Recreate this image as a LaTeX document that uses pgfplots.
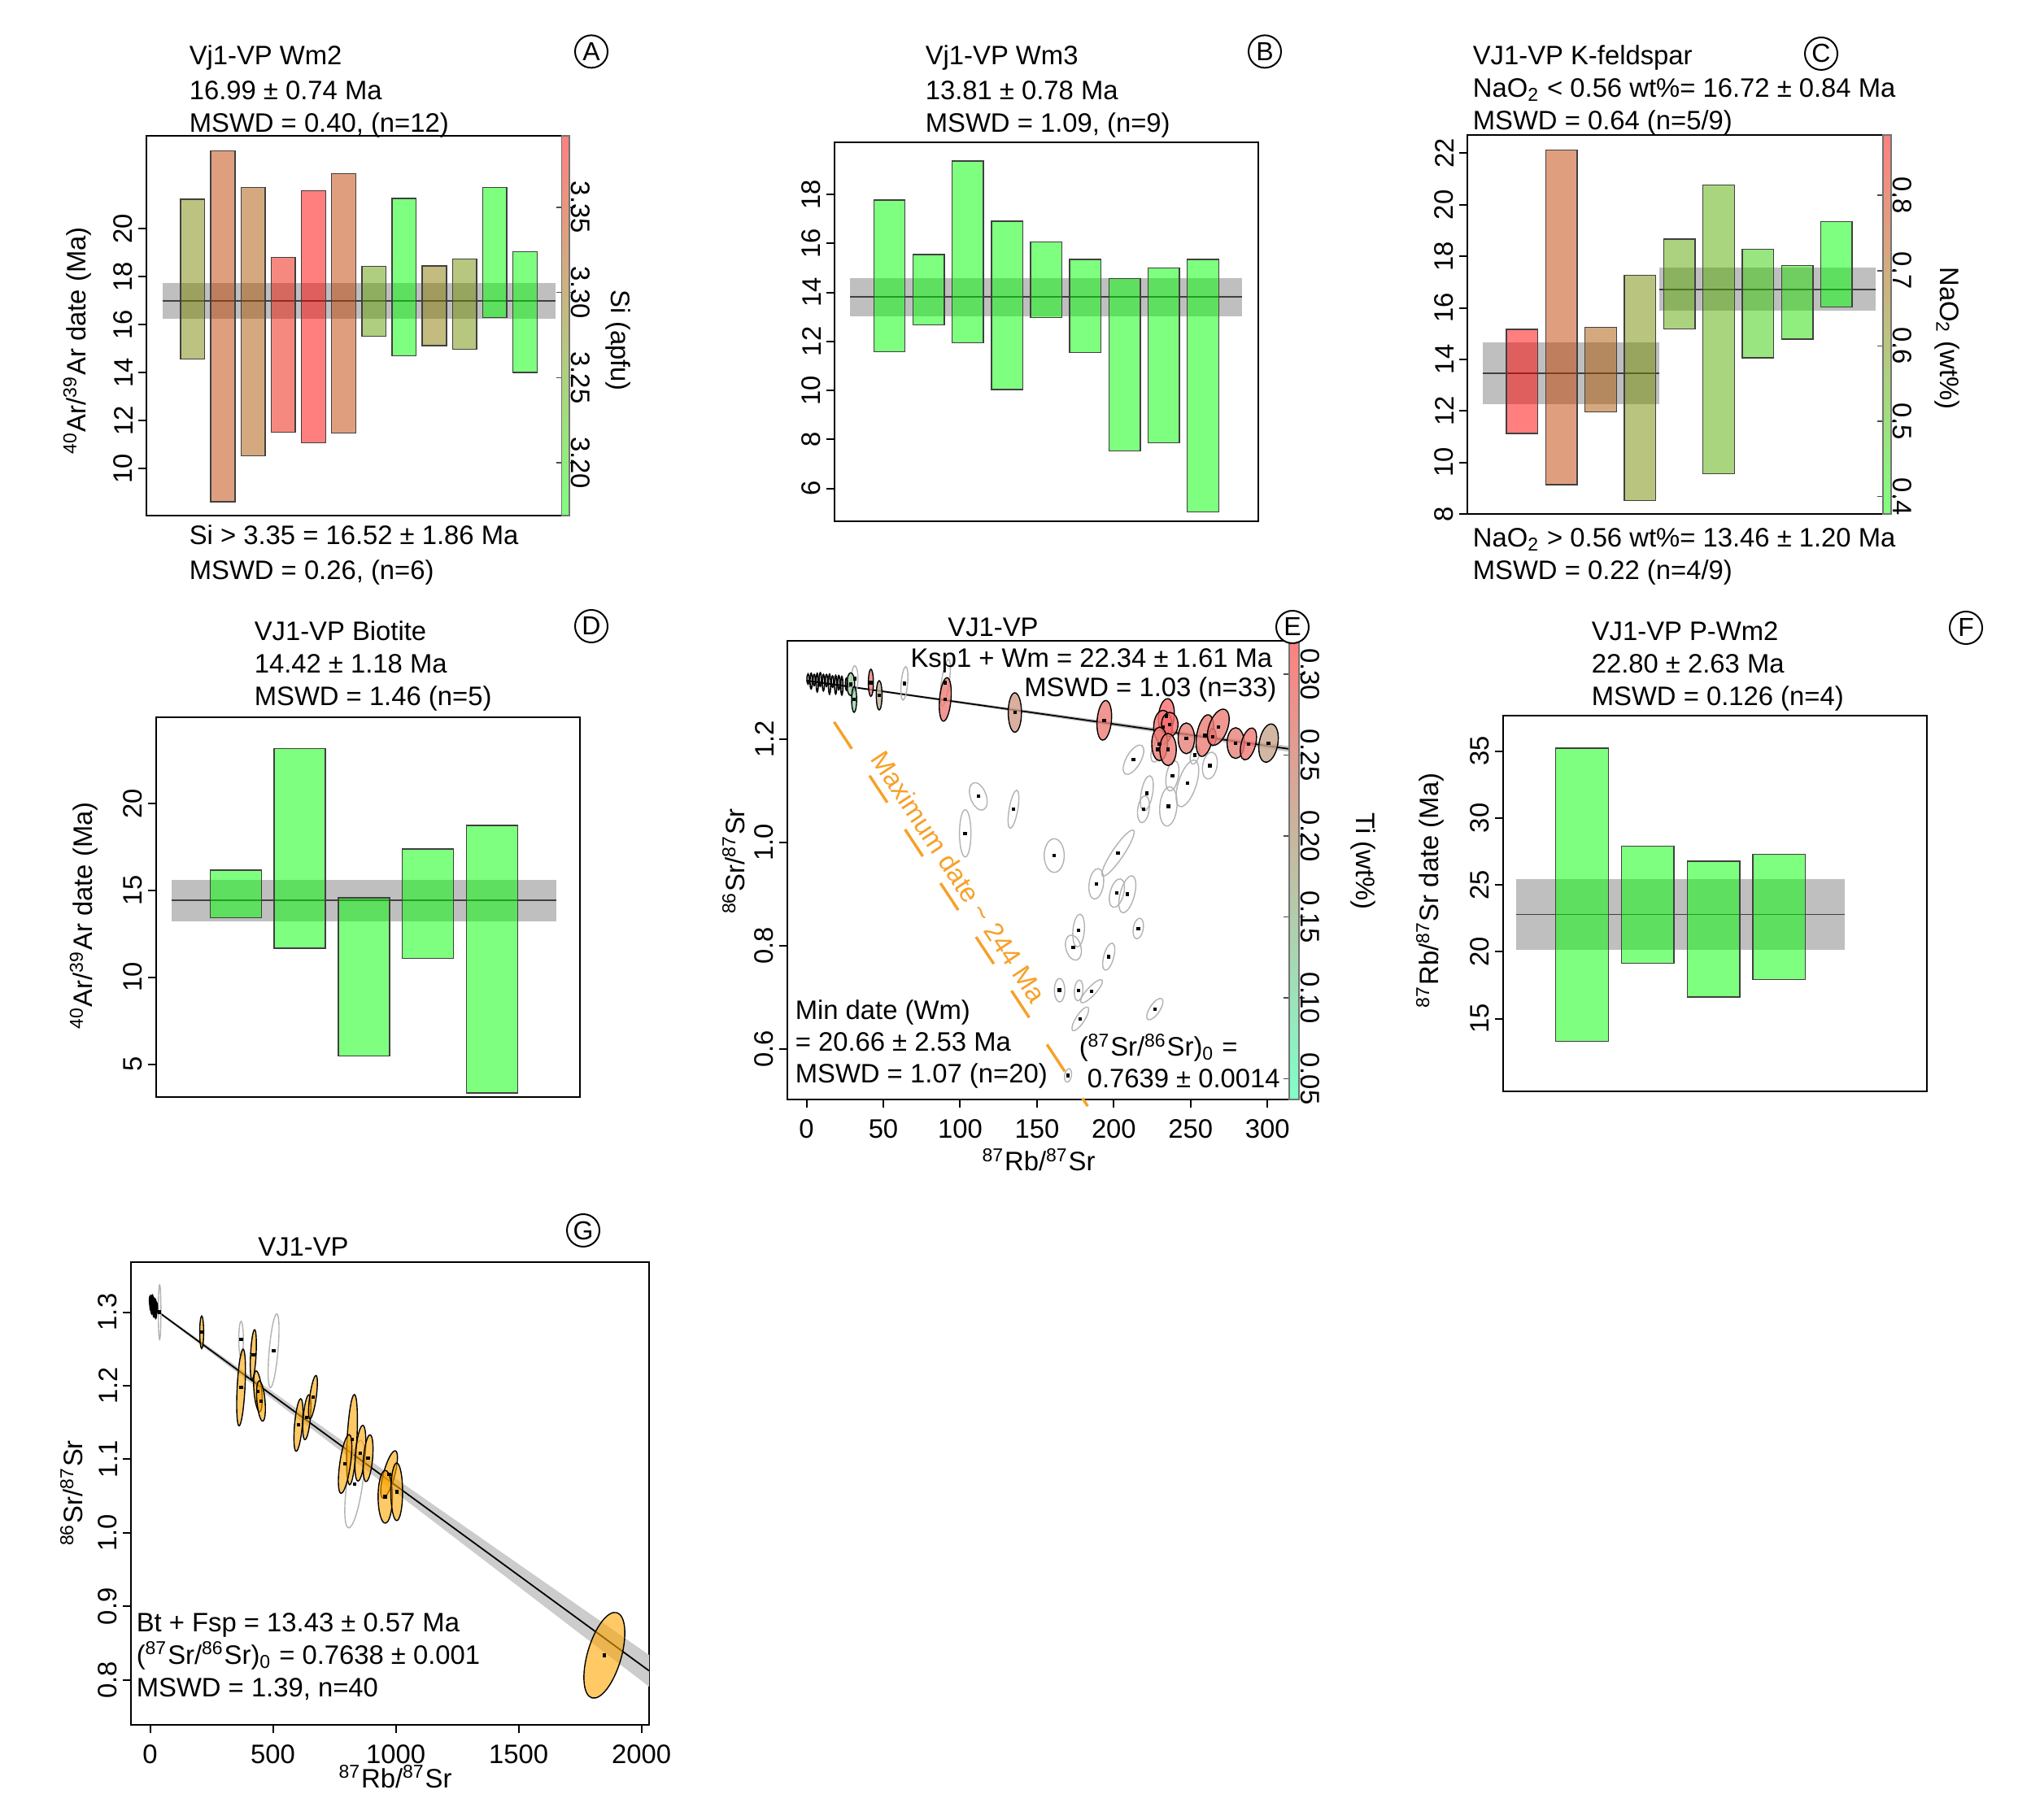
\documentclass[border=0pt]{standalone}
\usepackage{fontspec}
\setmainfont{Liberation Sans}
\usepackage{pgfplots}
\pgfplotsset{compat=1.18}
\usepackage{pgfplotstable}
\usetikzlibrary{shapes.geometric}
\pgfkeys{/pgf/number format/assume math mode=true, /pgf/number format/1000 sep={}}
\newcommand\tf{\fontsize{8.2}{9.5}\selectfont}
\definecolor{mygray}{gray}{0.75}
\definecolor{morange}{RGB}{255,165,0}
\definecolor{dorange}{RGB}{247,160,40}
\definecolor{eH}{RGB}{250,110,110}
\definecolor{eL}{RGB}{120,250,190}
\def\ellk{2}
\pgfplotsset{
  rbase/.style={scale only axis, anchor=south west,
    axis line style={line width=0.6pt},
    tick align=outside, major tick length=2.5pt,
    tick style={black, line width=0.5pt},
    ytick pos=left, xtick pos=bottom,
    yticklabel style={rotate=90, anchor=south, font=\tf, inner sep=1.5pt},
    xticklabel style={font=\tf}},
  barax/.style={rbase, xtick=\empty},
  cbar/.style n args={3}{colorbar, colorbar shift/.style={xshift=0pt},
    colorbar style={at={(parent axis.north east)}, anchor=north east, xshift=0pt, width=#1,
    ytick={#2}, tick align=outside, major tick length=1.8pt, tick style={black!70, line width=0.4pt},
    axis line style={draw=black!55, line width=0.3pt},
    yticklabel shift={-1.5pt},
    yticklabel style={rotate=-90, anchor=south, font=\tf, inner sep=0pt,
      /pgf/number format/.cd, fixed, fixed zerofill, precision=#3}}},
  ell/.style={draw=none, mark=none, nodes near coords={},
    visualization depends on={\thisrow{a} \as \ea},
    visualization depends on={\thisrow{b} \as \eb},
    visualization depends on={\thisrow{r} \as \er},
    every node near coord/.append style={shape=ellipse, anchor=center, inner sep=0pt, outer sep=0pt,
      minimum width={\ellk*\ea pt}, minimum height={\ellk*\eb pt}, rotate=\er, #1}},
}
\newcommand\wb[5]{\addplot[draw=black!75, line width=0.35pt, fill=#5, fill opacity=0.5] coordinates {(#1,#3) (#2,#3) (#2,#4) (#1,#4)} -- cycle;}
\newcommand\band[5]{\addplot[fill=mygray, draw=none] coordinates {(#1,#3) (#2,#3) (#2,#4) (#1,#4)} -- cycle;
  \addplot[black!75, line width=0.4pt] coordinates {(#1,#5) (#2,#5)};}

\pgfplotstableread{
x y a b r
111.8 1.0888 2.2 4.0 20
134.7 1.0639 1.2 5.4 -10
103.3 1.0172 1.6 6.6 0
161.2 0.9742 2.8 4.7 0
202.7 0.979 7.7 1.6 56
188.6 0.9195 2.0 4.3 -8
202.0 0.9015 1.9 4.1 -15
208.8 0.8993 2.0 5.3 -15
177.1 0.829 1.6 4.6 -5
173.7 0.796 2.1 3.6 15
215.9 0.833 1.4 2.9 -10
196.7 0.7785 1.4 3.9 -15
164.7 0.7136 1.45 3.3 0
177.1 0.7131 1.2 2.9 -5
185.5 0.7116 4.3 1.2 47
178.2 0.658 3.9 1.2 57
226.7 0.677 3.5 1.4 56
170.2 0.5486 0.95 1.9 -10
212.8 1.1598 4.6 2.0 60
228.7 1.1796 1.6 3.7 -20
252.7 1.1689 1.2 2.6 -15
262.5 1.1484 2.0 3.8 -10
238.1 1.1286 1.7 4.3 -10
247.9 1.114 2.5 6.8 -18
221.5 1.0947 1.6 5.0 -10
219.3 1.064 1.6 3.8 -8
235.5 1.0694 2.4 5.5 -5
63.7 1.3076 0.9 4.7 -5
90.3 1.3087 1.1 6.6 -8
31.4 1.3168 0.9 3.6 0
}\Egray

\pgfplotstableread{
x y a b r ti
28.8 1.306 1.1 3.2 0 0.13
31.0 1.2765 0.7 3.6 0 0.11
41.9 1.3087 0.7 3.8 0 0.29
47.3 1.2845 0.8 4.1 0 0.19
90.3 1.2765 1.6 6.1 -5 0.29
135.6 1.2512 1.85 5.5 0 0.23
193.8 1.2361 2.0 5.55 -5 0.29
234.2 1.2441 2.2 4.9 -5 0.32
232.0 1.2227 2.6 4.7 0 0.31
236.4 1.2280 2.3 3.4 0 0.32
229.8 1.1904 2.2 4.7 0 0.29
235.3 1.1796 2.3 4.5 0 0.29
247.2 1.2012 2.3 4.3 0 0.28
259.3 1.2065 2.3 5.9 -10 0.29
264.3 1.2038 1.0 2.4 0 0.32
268.0 1.2227 2.6 5.3 -20 0.29
279.3 1.1920 2.4 4.3 0 0.28
287.6 1.1904 2.0 4.6 -15 0.30
300.7 1.1920 2.6 5.4 -10 0.21
}\Ecol

\pgfplotstableread{
x y a b r
1 1.316 0.3 1.4 0
3 1.312 0.3 2.2 0
5 1.314 0.3 1.6 0
7 1.309 0.3 2.6 0
9 1.315 0.3 1.9 0
11 1.309 0.3 2.3 0
13 1.313 0.3 1.7 0
15 1.306 0.3 2.8 0
17 1.311 0.3 1.6 0
19 1.305 0.3 2.6 0
21 1.309 0.3 2.0 0
23 1.303 0.3 2.6 0
26 1.306 0.3 1.7 0
}\Blk

\pgfplotstableread{
x y a b r
210.1 1.2727 0.6 5.0 0
370.4 1.1976 1.2 11.8 -3
420.2 1.2422 0.85 7.7 -3
438.9 1.1923 1.2 6.3 5
451.4 1.1792 1.25 6.2 5
603.9 1.1466 1.2 8.1 -5
638.1 1.1571 1.1 6.9 -5
663.0 1.1845 1.0 6.7 -8
821.8 1.1267 1.5 13.9 -3
793.8 1.0936 1.65 9.1 -8
856.0 1.1083 1.5 8.6 -5
887.2 1.1015 1.4 7.2 -5
972.8 1.0794 1.75 7.5 -15
957.2 1.0490 2.2 8.1 0
1003.9 1.0558 1.8 8.85 0
1849.0 0.8336 13.65 5.2 73.7
}\Gor

\pgfplotstableread{
x y a b r
370.4 1.2632 0.7 5.5 0
502.7 1.2475 1.35 11.4 -5
832.7 1.0663 2.4 13.6 -8
38.9 1.300 0.4 8.4 0
}\Ggray

\begin{document}
\begin{tikzpicture}
\useasboundingbox (0,0) rectangle (620.25pt,559.25pt);

%%%%%%%%%% A
\begin{axis}[barax, at={(45pt,400.75pt)}, width=130pt, height=116.75pt,
  xmin=-0.53, xmax=13.47, ymin=8.04, ymax=23.87, ytick={10,12,...,20},
  colormap={rg}{rgb255(0cm)=(128,255,128); rgb255(1cm)=(255,128,128)},
  point meta min=3.169, point meta max=3.392,
  cbar={2.3pt}{3.2,3.25,3.3,3.35}{2}]
\band{0}{13}{16.25}{17.73}{16.99}
\wb{0.6}{1.4}{14.56}{21.23}{red!48!green}
\wb{1.6}{2.4}{8.61}{23.24}{red!75!green}
\wb{2.6}{3.4}{10.53}{21.72}{red!67!green}
\wb{3.6}{4.4}{11.52}{18.80}{red!92!green}
\wb{4.6}{5.4}{11.07}{21.59}{red}
\wb{5.6}{6.4}{11.48}{22.30}{red!75!green}
\wb{6.6}{7.4}{15.51}{18.42}{red!38!green}
\wb{7.6}{8.4}{14.69}{21.26}{green}
\wb{8.6}{9.4}{15.12}{18.44}{red!53!green}
\wb{9.6}{10.4}{14.98}{18.74}{red!44!green}
\wb{10.6}{11.4}{16.30}{21.71}{green}
\wb{11.6}{12.4}{14.00}{19.03}{green}
\end{axis}

%%%%%%%%%% B
\begin{axis}[barax, at={(256.5pt,399pt)}, width=130.25pt, height=116.5pt,
  xmin=-0.40, xmax=10.41, ymin=4.66, ymax=20.125, ytick={6,8,...,18}]
\band{0}{10}{13.03}{14.58}{13.81}
\wb{0.6}{1.4}{11.58}{17.77}{green}
\wb{1.6}{2.4}{12.67}{15.55}{green}
\wb{2.6}{3.4}{11.94}{19.36}{green}
\wb{3.6}{4.4}{10.03}{16.91}{green}
\wb{4.6}{5.4}{12.98}{16.06}{green}
\wb{5.6}{6.4}{11.55}{15.34}{green}
\wb{6.6}{7.4}{7.53}{14.56}{green}
\wb{7.6}{8.4}{7.86}{15.00}{green}
\wb{8.6}{9.4}{5.05}{15.34}{green}
\end{axis}

%%%%%%%%%% C
\begin{axis}[barax, at={(451pt,401.25pt)}, width=130.25pt, height=116.5pt,
  xmin=-0.39, xmax=10.39, ymin=8, ymax=22.71, ytick={8,10,...,22},
  colormap={rg}{rgb255(0cm)=(128,255,128); rgb255(1cm)=(255,128,128)},
  point meta min=0.377, point meta max=0.880,
  cbar={2.5pt}{0.4,0.5,0.6,0.7,0.8}{1}]
\band{0}{4.5}{12.27}{14.65}{13.46}
\band{4.5}{10}{15.90}{17.55}{16.72}
\wb{0.6}{1.4}{11.12}{15.17}{red}
\wb{1.6}{2.4}{9.14}{22.12}{red!75!green}
\wb{2.6}{3.4}{11.96}{15.24}{red!67!green}
\wb{3.6}{4.4}{8.52}{17.27}{red!45!green}
\wb{4.6}{5.4}{15.19}{18.67}{red!35!green}
\wb{5.6}{6.4}{9.57}{20.76}{red!33!green}
\wb{6.6}{7.4}{14.06}{18.27}{red!20!green}
\wb{7.6}{8.4}{14.78}{17.64}{red!13!green}
\wb{8.6}{9.4}{16.04}{19.35}{green}
\end{axis}

%%%%%%%%%% D
\begin{axis}[barax, at={(48pt,222pt)}, width=130.25pt, height=116.75pt,
  xmin=-0.24, xmax=6.37, ymin=3.11, ymax=24.96, ytick={5,10,15,20}]
\band{0}{6}{13.22}{15.59}{14.42}
\wb{0.6}{1.4}{13.44}{16.17}{green}
\wb{1.6}{2.4}{11.67}{23.15}{green}
\wb{2.6}{3.4}{5.48}{14.58}{green}
\wb{3.6}{4.4}{11.10}{17.38}{green}
\wb{4.6}{5.4}{3.35}{18.74}{green}
\end{axis}

%%%%%%%%%% F
\begin{axis}[barax, at={(462pt,223.75pt)}, width=130.25pt, height=115.5pt,
  xmin=-0.2, xmax=6.25, ymin=9.57, ymax=37.66, ytick={15,20,...,35}]
\band{0}{5}{20.17}{25.43}{22.80}
\wb{0.6}{1.4}{13.30}{35.23}{green}
\wb{1.6}{2.4}{19.14}{27.89}{green}
\wb{2.6}{3.4}{16.63}{26.77}{green}
\wb{3.6}{4.4}{17.94}{27.31}{green}
\end{axis}

%%%%%%%%%% E
\begin{axis}[rbase, at={(242pt,221.25pt)}, width=157.25pt, height=141pt,
  xmin=-12.45, xmax=320.5, ymin=0.502, ymax=1.390,
  xtick={0,50,...,300}, ytick={0.6,0.8,1.0,1.2},
  yticklabel style={/pgf/number format/.cd, fixed, fixed zerofill, precision=1},
  colormap={ti}{rgb255(0cm)=(128,255,200); rgb255(1cm)=(255,128,128)},
  point meta min=0.0372, point meta max=0.3206,
  cbar={3pt}{0.05,0.1,0.15,0.2,0.25,0.3}{2}, clip=false]
\def\ellk{2.2}
\addplot[fill=black!22, draw=none] coordinates {(0,1.3142) (320.5,1.1835) (320.5,1.1725) (0,1.3118)} -- cycle;
\addplot[black, line width=0.45pt] coordinates {(0,1.313) (320.5,1.178)};
\addplot[dorange, line width=0.85pt, dash pattern=on 9.9pt off 9.9pt] coordinates {(17.95,1.233) (183,0.489)};
\addplot[ell={draw=black!30, line width=0.35pt}] table[x=x, y=y] {\Egray};
\addplot[visualization depends on={(\thisrow{ti}-0.0372)*352.86 \as \ct},
  ell={draw=black, line width=0.35pt, fill=eH!\ct!eL, fill opacity=0.8}] table[x=x, y=y] {\Ecol};
\addplot[ell={draw=black, line width=0.4pt}] table[x=x, y=y] {\Blk};
\addplot[only marks, mark=square*, mark size=0.35pt, black] table[x=x, y=y] {\Egray};
\addplot[only marks, mark=square*, mark size=0.35pt, black] table[x=x, y=y] {\Ecol};
\node[rotate=-56.6, text=dorange, font=\tf] at (axis cs:99,0.9333) {Maximum date \textasciitilde{} 244 Ma};
\end{axis}

%%%%%%%%%% G
\begin{axis}[rbase, at={(40.25pt,29pt)}, width=159.25pt, height=142.25pt,
  xmin=-77.8, xmax=2031, ymin=0.739, ymax=1.368,
  xtick={0,500,1000,1500,2000}, ytick={0.8,0.9,1.0,1.1,1.2,1.3},
  yticklabel style={/pgf/number format/.cd, fixed, fixed zerofill, precision=1}]
\addplot[fill=black!20, draw=none] coordinates {(0,1.3095) (1000,1.0738) (2031,0.834) (2031,0.791) (1000,1.0548) (0,1.3075)} -- cycle;
\addplot[black, line width=0.45pt] coordinates {(0,1.3085) (2031,0.8125)};
\addplot[ell={draw=black!30, line width=0.35pt}] table[x=x, y=y] {\Ggray};
\addplot[ell={draw=black, line width=0.35pt, fill=morange, fill opacity=0.6}] table[x=x, y=y] {\Gor};
\addplot[ell={draw=black, line width=0.4pt}] table[x=x, y=y] {\Blk};
\addplot[only marks, mark=square*, mark size=0.35pt, black] table[x=x, y=y] {\Gor};
\addplot[only marks, mark=square*, mark size=0.35pt, black] table[x=x, y=y] {\Ggray};
\end{axis}

%%%%%%%%%% texts
\tikzset{lt/.style={font=\tf, inner sep=0pt}, circ/.style={circle, draw, line width=0.5pt, inner sep=0pt, minimum size=10pt, font=\fontsize{8}{9}\selectfont}}
% A
\node[lt, anchor=base west] at (58pt,539.25pt) {Vj1-VP Wm2};
\node[lt, anchor=base west] at (58pt,528.5pt) {16.99 ± 0.74 Ma};
\node[lt, anchor=base west] at (58pt,518.5pt) {MSWD = 0.40, (n=12)};
\node[lt, anchor=base west] at (58pt,391.75pt) {Si > 3.35 = 16.52 ± 1.86 Ma};
\node[lt, anchor=base west] at (58pt,381pt) {MSWD = 0.26, (n=6)};
\node[circ] at (181.75pt,543.4pt) {A};
\node[lt, rotate=90] at (23.75pt,454.5pt) {\textsuperscript{40}Ar/\textsuperscript{39}Ar date (Ma)};
\node[lt, rotate=-90] at (190pt,454.5pt) {Si (apfu)};
% B
\node[lt, anchor=base west] at (284.25pt,539.25pt) {Vj1-VP Wm3};
\node[lt, anchor=base west] at (284.25pt,528.5pt) {13.81 ± 0.78 Ma};
\node[lt, anchor=base west] at (284.25pt,518.5pt) {MSWD = 1.09, (n=9)};
\node[circ] at (388.75pt,543.4pt) {B};
% C
\node[lt, anchor=base west] at (452.5pt,539.25pt) {VJ1-VP K-feldspar};
\node[lt, anchor=base west] at (452.5pt,529.25pt) {NaO\textsubscript{2} < 0.56 wt\%= 16.72 ± 0.84 Ma};
\node[lt, anchor=base west] at (452.5pt,519.25pt) {MSWD = 0.64 (n=5/9)};
\node[lt, anchor=base west] at (452.5pt,391pt) {NaO\textsubscript{2} > 0.56 wt\%= 13.46 ± 1.20 Ma};
\node[lt, anchor=base west] at (452.5pt,381pt) {MSWD = 0.22 (n=4/9)};
\node[circ] at (559.75pt,542.75pt) {C};
\node[lt, rotate=-90] at (598.5pt,455.25pt) {NaO\textsubscript{2} (wt\%)};
% D
\node[lt, anchor=base west] at (78pt,362.25pt) {VJ1-VP Biotite};
\node[lt, anchor=base west] at (78pt,352.25pt) {14.42 ± 1.18 Ma};
\node[lt, anchor=base west] at (78pt,342.25pt) {MSWD = 1.46 (n=5)};
\node[circ] at (181.75pt,366.75pt) {D};
\node[lt, rotate=90] at (25.75pt,277.75pt) {\textsuperscript{40}Ar/\textsuperscript{39}Ar date (Ma)};
% E
\node[lt, anchor=base] at (305.25pt,363.5pt) {VJ1-VP};
\node[circ, fill=white] at (397.25pt,366.5pt) {E};
\node[lt, anchor=base east] at (391.25pt,354pt) {Ksp1 + Wm = 22.34 ± 1.61 Ma};
\node[lt, anchor=base east] at (392.5pt,345pt) {MSWD = 1.03 (n=33)};
\node[lt, anchor=base west] at (244.25pt,245.75pt) {Min date (Wm)};
\node[lt, anchor=base west] at (244.25pt,236pt) {= 20.66 ± 2.53 Ma};
\node[lt, anchor=base west] at (244.25pt,226.25pt) {MSWD = 1.07 (n=20)};
\node[lt, anchor=base west] at (331.5pt,234.5pt) {(\textsuperscript{87}Sr/\textsuperscript{86}Sr)\textsubscript{0} =};
\node[lt, anchor=base west] at (334pt,224.75pt) {0.7639 ± 0.0014};
\node[lt, rotate=90] at (225.5pt,294.5pt) {\textsuperscript{86}Sr/\textsuperscript{87}Sr};
\node[lt, rotate=-90] at (419pt,294.5pt) {Ti (wt\%)};
\node[lt, anchor=base] at (319.25pt,199.25pt) {\textsuperscript{87}Rb/\textsuperscript{87}Sr};
% F
\node[lt, anchor=base west] at (489pt,362.25pt) {VJ1-VP P-Wm2};
\node[lt, anchor=base west] at (489pt,352.25pt) {22.80 ± 2.63 Ma};
\node[lt, anchor=base west] at (489pt,342.25pt) {MSWD = 0.126 (n=4)};
\node[circ] at (604.25pt,366.25pt) {F};
\node[lt, rotate=90] at (439.5pt,285.5pt) {\textsuperscript{87}Rb/\textsuperscript{87}Sr date (Ma)};
% G
\node[lt, anchor=base] at (93.25pt,173pt) {VJ1-VP};
\node[circ] at (179.25pt,181pt) {G};
\node[lt, anchor=base west] at (41.75pt,57.75pt) {Bt + Fsp = 13.43 ± 0.57 Ma};
\node[lt, anchor=base west] at (41.75pt,47.75pt) {(\textsuperscript{87}Sr/\textsuperscript{86}Sr)\textsubscript{0} = 0.7638 ± 0.001};
\node[lt, anchor=base west] at (41.75pt,37.75pt) {MSWD = 1.39, n=40};
\node[lt, anchor=base] at (121.5pt,9.75pt) {\textsuperscript{87}Rb/\textsuperscript{87}Sr};
\node[lt, rotate=90] at (22pt,100.25pt) {\textsuperscript{86}Sr/\textsuperscript{87}Sr};
\end{tikzpicture}
\end{document}
